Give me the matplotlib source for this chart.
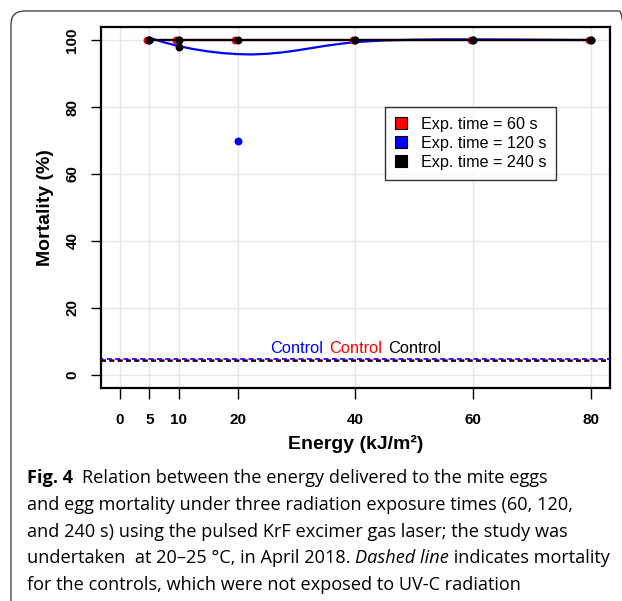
import numpy as np
import matplotlib
matplotlib.use("Agg")
import matplotlib.pyplot as plt
from matplotlib.patches import FancyBboxPatch, Patch

plt.rcParams['font.family'] = ['Liberation Sans', 'DejaVu Sans']

# data
energy = [5, 10, 20, 40, 60, 80]
mort_60 = [100, 100, 100, 100, 100, 100]
mort_120 = [100, 100, 70, 100, 100, 100]
mort_240 = [100, 100, 100, 100, 100, 100]
extra_240_x = [10]
extra_240_y = [98]

# smoothed fit of the 120 s series
fit_120_x = [5, 7.5, 10, 12.5, 15, 17.5, 20, 22.5, 25, 27.5, 30, 32.5, 35, 37.5, 40, 45, 50, 55, 60, 70, 80]
fit_120_y = [100.7, 99.3, 98.2, 97.3, 96.6, 96.1, 95.8, 95.7, 95.9, 96.3, 96.9, 97.6, 98.3, 98.9, 99.4, 99.9, 100.1, 100.2, 100.2, 100.1, 100.0]

control_y = 4.5
xticks = [0, 5, 10, 20, 40, 60, 80]
yticks = [0, 20, 40, 60, 80, 100]
labels = ['Exp. time = 60 s', 'Exp. time = 120 s', 'Exp. time = 240 s']
colors = ['red', 'blue', 'black']

W, H = 622, 601
fig = plt.figure(figsize=(6.22, 6.01), dpi=100)

# rounded frame round the figure + caption
frame = FancyBboxPatch((11 / W, -0.05), 1.0, 1 - 11 / H + 0.05,
                       boxstyle="round,pad=0,rounding_size=0.022",
                       transform=fig.transFigure, fill=False,
                       edgecolor='#333333', linewidth=0.9, clip_on=False)
fig.patches.append(frame)

ax = fig.add_axes([101 / W, 1 - 388 / H, 509 / W, 361 / H])
ax.set_xlim(-3.2, 83.2)
ax.set_ylim(-3.9, 103.9)

for xv in xticks:
    ax.axvline(xv, color='#e6e6e6', lw=1, zorder=0)
for yv in yticks:
    ax.axhline(yv, color='#e6e6e6', lw=1, zorder=0)

# controls
ax.axhline(control_y, color='red', ls=(0, (3, 2)), lw=1.2, zorder=1)
ax.axhline(control_y - 0.3, color='black', ls=(0, (3, 2)), lw=1.2, zorder=1)
ax.axhline(control_y + 0.3, color='blue', ls=(1.5, (3, 2)), lw=1.2, zorder=1)
ax.text(30, 7.8, 'Control', color='blue', fontsize=11.8, ha='center', va='center')
ax.text(40, 7.8, 'Control', color='red', fontsize=11.8, ha='center', va='center')
ax.text(50, 7.8, 'Control', color='black', fontsize=11.8, ha='center', va='center')

# series
ax.plot(energy, mort_60, color='red', lw=1.6, zorder=2)
ax.scatter([e - 0.4 for e in energy], mort_60, s=22, color='red', zorder=3)
ax.plot(fit_120_x, fit_120_y, color='blue', lw=1.6, zorder=2)
ax.scatter(energy, mort_120, s=22, color='blue', zorder=3)
ax.plot(energy, mort_240, color='black', lw=1.6, zorder=4)
ax.scatter(energy, mort_240, s=22, color='black', zorder=5)
ax.scatter(extra_240_x, extra_240_y, s=22, color='black', zorder=5)

ax.set_xticks(xticks)
ax.set_yticks(yticks)
ax.set_xticklabels([str(v) for v in xticks], fontweight='bold', fontsize=11)
ax.set_yticklabels([str(v) for v in yticks], fontweight='bold', fontsize=11,
                   rotation=90, va='center')
ax.tick_params(axis='x', length=8, width=1, pad=10)
ax.tick_params(axis='y', length=7.5, width=1, pad=8)
for sp in ax.spines.values():
    sp.set_linewidth(1.6)
ax.set_xlabel('Energy (kJ/m²)', fontweight='bold', fontsize=14, labelpad=6)
ax.set_ylabel('Mortality (%)', fontweight='bold', fontsize=14, labelpad=8)

handles = [Patch(facecolor=c, edgecolor='black', lw=0.8) for c in colors]
leg = ax.legend(handles, labels, loc='upper left', bbox_to_anchor=(0.558, 0.778),
                fontsize=11.6, frameon=True, fancybox=False, edgecolor='black',
                handlelength=0.75, handleheight=0.75, handletextpad=0.9,
                borderpad=0.6, labelspacing=0.25, borderaxespad=0)
leg.get_frame().set_linewidth(1.0)

# caption
cap_font = ['Open Sans', 'DejaVu Sans']
fs = 13.1
x0 = 27 / W
base = [483, 510, 537, 563, 590]


def put(x, yline, s, **kw):
    t = fig.text(x, 1 - yline / H, s, fontsize=fs, va='baseline', family=cap_font, **kw)
    fig.canvas.draw()
    return t, t.get_window_extent().x1 / fig.bbox.width


_, xe = put(x0, base[0], 'Fig. 4', fontweight='bold')
put(xe + 9 / W, base[0], 'Relation between the energy delivered to the mite eggs')
put(x0, base[1], 'and egg mortality under three radiation exposure times (60, 120,')
put(x0, base[2], 'and 240 s) using the pulsed KrF excimer gas laser; the study was')
_, xe = put(x0, base[3], 'undertaken  at 20\u201325 \u00b0C, in April 2018. ')
_, xe = put(xe, base[3], 'Dashed line', style='italic')
put(xe, base[3], ' indicates mortality')
put(x0, base[4], 'for the controls, which were not exposed to UV-C radiation')

fig.savefig('out.png', dpi=100)
